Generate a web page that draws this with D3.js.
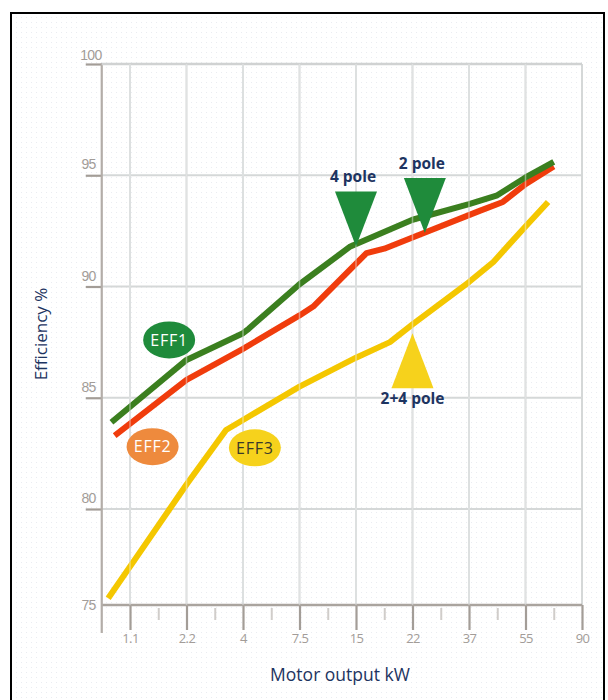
<!DOCTYPE html>
<html>
<head>
<meta charset="utf-8">
<script src="https://cdn.jsdelivr.net/npm/d3@7"></script>
<style>
  html, body { margin: 0; padding: 0; background: #fff; }
  svg { display: block; font-family: "Open Sans", "DejaVu Sans", sans-serif; }
</style>
</head>
<body>
<svg id="chart" width="608" height="700"></svg>
<script>
// Standard motor ratings (kW) spaced evenly along the output axis
const ratings = [0.75, 1.1, 1.5, 2.2, 3, 4, 5.5, 7.5, 11, 15, 18.5, 22, 30, 37, 45, 55, 75, 90];
const majorTicks = [1.1, 2.2, 4, 7.5, 15, 22, 37, 55, 90];
const majorLabels = ["1.1", "2.2", "4", "7.5", "15", "22", "37", "55", "90"];
const minorTicks = [1.5, 3, 5.5, 11, 18.5, 30, 45, 75];
const effTicks = [75, 80, 85, 90, 95, 100];

// Efficiency curves: [output kW, efficiency %]
const eff1 = [[0.87, 83.9], [2.2, 86.7], [4, 87.9], [4.3, 88.1], [7.5, 90.1], [14.2, 91.8],
              [22, 93.0], [37, 93.7], [45, 94.1], [55, 94.9], [75, 95.6]];
const eff2 = [[0.91, 83.3], [2.2, 85.8], [4, 87.2], [7.5, 88.7], [9.2, 89.1], [16.3, 91.5],
              [18.5, 91.7], [22, 92.2], [40, 93.4], [47, 93.8], [55, 94.6], [75, 95.4]];
const eff3 = [[0.83, 75.35], [1.1, 77.0], [2.2, 81.1], [3.4, 83.55], [4, 84.0], [7.5, 85.5],
              [15, 86.8], [19.2, 87.5], [22, 88.3], [37, 90.2], [43.9, 91.1], [55, 92.7], [71, 93.8]];

const seriesNames = ["EFF3", "EFF2", "EFF1"];
const seriesData = [eff3, eff2, eff1];
const seriesColors = ["#f4c700", "#f03c0c", "#3b7f1f"];

// Class badges: name, kW, efficiency
const badgeNames = ["EFF1", "EFF2", "EFF3"];
const badgeAt = [[1.77, 87.6], [1.42, 82.8], [4.63, 82.75]];
const badgeFill = ["#1f8b3b", "#ee8a3d", "#f6d21c"];
const badgeText = ["#ffffff", "#ffffff", "#3a3a2a"];

// Pole markers: label, tip kW, tip efficiency, pointing direction
const poleLabels = ["4 pole", "2 pole", "2+4 pole"];
const poleTip = [[15, 91.8], [25.5, 92.4], [22, 87.9]];
const poleDir = ["down", "down", "up"];
const poleFill = ["#1f8b3b", "#1f8b3b", "#f6d21c"];

const svg = d3.select("#chart");

// dotted paper texture
const defs = svg.append("defs");
const pat = defs.append("pattern").attr("id", "dots").attr("width", 5).attr("height", 5)
  .attr("patternUnits", "userSpaceOnUse");
pat.append("rect").attr("width", 5).attr("height", 5).attr("fill", "#fff");
pat.append("rect").attr("x", 1).attr("y", 2).attr("width", 1).attr("height", 1).attr("fill", "#eaecf1");

svg.append("rect").attr("x", 11).attr("y", 13).attr("width", 593).attr("height", 720)
  .attr("fill", "url(#dots)").attr("stroke", "#000").attr("stroke-width", 2);

const xLeft = 101.75, xRight = 582;
const x = d3.scaleLinear()
  .domain(ratings)
  .range(ratings.map((d, i) => xLeft + i * (xRight - xLeft) / (ratings.length - 1)));
const y = d3.scaleLinear().domain([75, 80, 100]).range([605, 509, 64]);

const gridColor = "#d5d8d8";
const axisColor = "#aaa49e";

// grid
const grid = svg.append("g");
grid.selectAll("line.v").data(majorTicks).join("line")
  .attr("x1", d => x(d)).attr("x2", d => x(d))
  .attr("y1", y(100)).attr("y2", y(75))
  .attr("stroke", gridColor).attr("stroke-width", 2);
grid.selectAll("line.h").data(effTicks.filter(d => d > 75)).join("line")
  .attr("x1", x(0.75)).attr("x2", x(90))
  .attr("y1", d => y(d)).attr("y2", d => y(d))
  .attr("stroke", gridColor).attr("stroke-width", 2);

// x axis: minor ticks
const xMinor = svg.append("g").attr("transform", `translate(0,${y(75)})`)
  .call(d3.axisBottom(x).tickValues(minorTicks).tickSize(15).tickFormat(""));
xMinor.select(".domain").remove();
xMinor.selectAll(".tick line").attr("stroke", "#d0cdca").attr("stroke-width", 2).attr("y1", 3);

// x axis: major ticks with labels
const xMajor = svg.append("g").attr("transform", `translate(0,${y(75)})`)
  .call(d3.axisBottom(x).tickValues(majorTicks).tickSize(25).tickPadding(4)
    .tickFormat((d, i) => majorLabels[i]));
xMajor.select(".domain").remove();
xMajor.selectAll(".tick line").attr("stroke", "#a39d97").attr("stroke-width", 2.2);
xMajor.selectAll(".tick text").attr("fill", "#a29c98").attr("font-size", 13)
  .attr("letter-spacing", "-0.6").attr("font-family", "Open Sans, sans-serif");

svg.append("line").attr("x1", x(0.75)).attr("x2", x(90)).attr("y1", y(75)).attr("y2", y(75))
  .attr("stroke", axisColor).attr("stroke-width", 2.5);

// y axis
const yAxis = svg.append("g").attr("transform", `translate(${x(0.75)},0)`)
  .call(d3.axisLeft(y).tickValues(effTicks).tickSize(16).tickFormat(d3.format("d")));
yAxis.select(".domain").remove();
yAxis.selectAll(".tick line").attr("stroke", "#a39d97").attr("stroke-width", 2.2)
  .filter(d => d === 75).remove();
yAxis.selectAll(".tick text")
  .attr("fill", "#a29c98").attr("font-size", 14).attr("letter-spacing", "-0.6")
  .attr("x", d => d === 100 ? 0 : -6)
  .attr("dy", d => d === 75 ? "0.35em" : d === 100 ? "-0.3em" : "-0.45em");

svg.append("line").attr("x1", x(0.75)).attr("x2", x(0.75)).attr("y1", y(100) - 1).attr("y2", y(75) + 28)
  .attr("stroke", "#b3ada8").attr("stroke-width", 2.2);
svg.append("line").attr("x1", x(0.75)).attr("x2", x(90)).attr("y1", y(100)).attr("y2", y(100))
  .attr("stroke", "#d0d2d2").attr("stroke-width", 2.5);

// efficiency curves
const line = d3.line().x(d => x(d[0])).y(d => y(d[1]));
svg.append("g").selectAll("path").data(seriesData).join("path")
  .attr("d", line)
  .attr("fill", "none")
  .attr("stroke", (d, i) => seriesColors[i])
  .attr("stroke-width", 6)
  .attr("stroke-linejoin", "round");

// light grid lines crossing over the curves
svg.append("g").selectAll("line").data(majorTicks.slice(0, -1)).join("line")
  .attr("x1", d => x(d)).attr("x2", d => x(d))
  .attr("y1", y(100)).attr("y2", y(75))
  .attr("stroke", "#eef0f0").attr("stroke-opacity", 0.45).attr("stroke-width", 1.5);

// pole markers
const triW = 21, triH = 55;
const poles = svg.append("g");
poleTip.forEach((t, i) => {
  const tx = x(t[0]), ty = y(t[1]);
  const s = poleDir[i] === "down" ? -1 : 1;
  const pts = [[tx, ty], [tx - triW, ty + s * triH], [tx + triW, ty + s * triH]];
  poles.append("path").attr("d", d3.line()(pts) + "Z").attr("fill", poleFill[i]);
  poles.append("text")
    .attr("x", tx - (poleDir[i] === "down" ? 3 : 0))
    .attr("y", poleDir[i] === "down" ? ty - triH - 9 : ty + triH + 16)
    .attr("text-anchor", "middle")
    .attr("font-size", 15.5).attr("font-weight", "bold")
    .attr("fill", "#1d3461")
    .text(poleLabels[i]);
});

// class badges
const badges = svg.append("g");
badgeAt.forEach((b, i) => {
  const cx = x(b[0]), cy = y(b[1]);
  badges.append("ellipse").attr("cx", cx).attr("cy", cy).attr("rx", 26).attr("ry", 18.5)
    .attr("fill", badgeFill[i]);
  badges.append("text").attr("x", cx).attr("y", cy).attr("dy", "0.36em")
    .attr("text-anchor", "middle").attr("font-size", 16).attr("letter-spacing", "0.8")
    .attr("fill", badgeText[i]).text(badgeNames[i]);
});

// axis titles
svg.append("text").attr("x", 340).attr("y", 681).attr("text-anchor", "middle")
  .attr("font-size", 17.5).attr("fill", "#1d3461").text("Motor output kW");
svg.append("text").attr("transform", "translate(47,334) rotate(-90)").attr("text-anchor", "middle")
  .attr("font-size", 17).attr("fill", "#1d3461").text("Efficiency %");
</script>
</body>
</html>
